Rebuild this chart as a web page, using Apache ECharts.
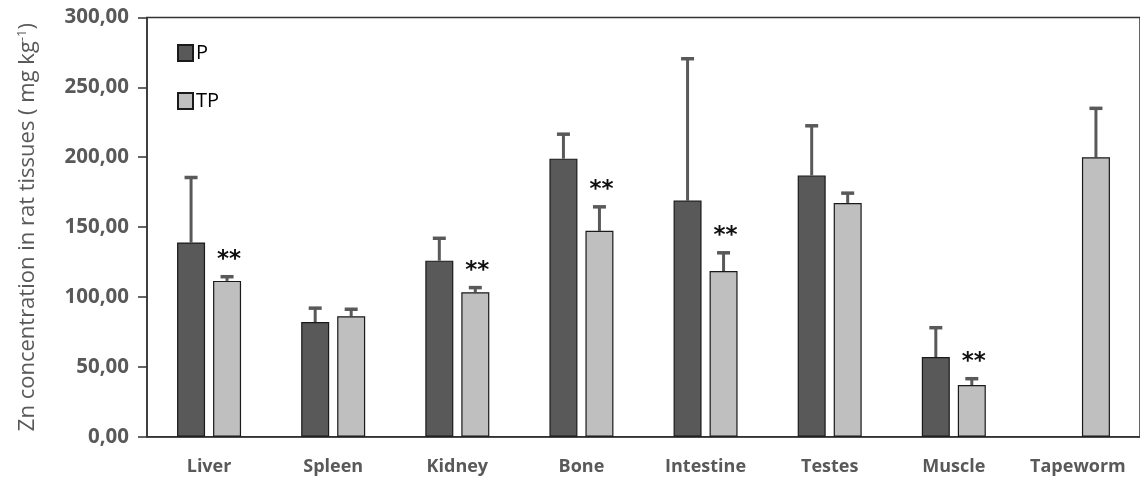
<!DOCTYPE html>
<html>
<head>
<meta charset="utf-8">
<script src="https://cdn.jsdelivr.net/npm/echarts@6/dist/echarts.min.js"></script>
<style>html,body{margin:0;padding:0;background:#fff}#c{width:1140px;height:482px}</style>
</head>
<body>
<div id="c"></div>
<script>
var categories = ['Liver', 'Spleen', 'Kidney', 'Bone', 'Intestine', 'Testes', 'Muscle', 'Tapeworm'];
var pValues  = [139, 82, 126, 199, 169, 187, 57, null];
var pErrors  = [46.5, 10, 16, 17.5, 101.5, 35.5, 21, null];
var tpValues = [111.5, 86.2, 103.4, 147.3, 118.6, 167.3, 37, 200];
var tpErrors = [3, 5, 3.3, 17.2, 13, 7, 4.5, 35];
var significance = ['**', '', '**', '**', '**', '', '**', ''];
var yTicks = [0, 50, 100, 150, 200, 250, 300];

var BAR_W = 28, GAP = 8;
var OFF = (BAR_W + GAP) / 2;
var FONT = '"Open Sans"';

function errSeries(values, errors, side, color, withSig) {
  var data = values.map(function (v, i) { return [i, v, errors[i], withSig ? significance[i] : '']; });
  return {
    type: 'custom',
    z: 1,
    silent: true,
    data: data,
    renderItem: function (params, api) {
      var v = api.value(1), e = api.value(2);
      if (v == null || isNaN(v)) return null;
      var base = api.coord([api.value(0), v]);
      var top = api.coord([api.value(0), v + e]);
      var x = base[0] + side * OFF;
      var children = [
        { type: 'line', shape: { x1: x, y1: base[1], x2: x, y2: top[1] }, style: { stroke: color, lineWidth: 3 } },
        { type: 'line', shape: { x1: x - 6.5, y1: top[1], x2: x + 6.5, y2: top[1] }, style: { stroke: color, lineWidth: 3.5 } }
      ];
      var s = data[params.dataIndex][3];
      if (s) {
        children.push({ type: 'text', style: { text: s, x: x + 2, y: top[1] - 17, textAlign: 'center', textVerticalAlign: 'middle', font: 'bold 23px "DejaVu Sans"', fill: '#111' } });
      }
      return { type: 'group', children: children };
    }
  };
}

var chart = echarts.init(document.getElementById('c'), null, { renderer: 'canvas' });
chart.setOption({
  animation: false,
  backgroundColor: '#fff',
  textStyle: { fontFamily: FONT },
  grid: { left: 147, right: -6, top: 17.5, bottom: 45.3, show: true, borderColor: '#333', borderWidth: 1.5, backgroundColor: 'transparent' },
  legend: {
    orient: 'vertical', left: 172, top: 38, itemWidth: 15, itemHeight: 16, itemGap: 28,
    textStyle: { fontSize: 20, color: '#000', fontFamily: FONT, padding: [0, 0, 0, -2] },
    data: [{ name: 'P', icon: 'rect' }, { name: 'TP', icon: 'rect' }]
  },
  xAxis: {
    type: 'category', data: categories,
    axisLine: { lineStyle: { color: '#333', width: 1.5 } },
    axisTick: { show: false },
    axisLabel: { interval: 0, color: '#595959', fontSize: 18, fontWeight: 'bold', margin: 21, fontFamily: FONT }
  },
  yAxis: {
    type: 'value', min: 0, max: 300, interval: 50,
    name: 'Zn concentration in rat tissues ( mg kg{sup|-1})',
    nameLocation: 'middle', nameGap: 108, nameRotate: 90,
    nameTextStyle: { color: '#595959', fontSize: 22, fontFamily: FONT, rich: { sup: { fontSize: 13, verticalAlign: 'top', color: '#595959', padding: [0, 0, 10, 0] } } },
    axisLine: { show: true, lineStyle: { color: '#333', width: 1.5 } },
    axisTick: { show: true, length: 9, lineStyle: { color: '#333', width: 1.5 } },
    splitLine: { show: false },
    axisLabel: {
      color: '#595959', fontSize: 20.5, fontWeight: 'bold', margin: 18, fontFamily: FONT,
      customValues: yTicks,
      formatter: function (v) { return v.toFixed(2).replace('.', ','); }
    }
  },
  series: [
    { name: 'P', type: 'bar', data: pValues, barWidth: BAR_W, barGap: (GAP / BAR_W * 100) + '%', z: 2,
      itemStyle: { color: '#595959', borderColor: '#1a1a1a', borderWidth: 1.2 } },
    { name: 'TP', type: 'bar', data: tpValues, barWidth: BAR_W, z: 2,
      itemStyle: { color: '#bfbfbf', borderColor: '#1a1a1a', borderWidth: 1.2 } },
    errSeries(pValues, pErrors, -1, '#595959', false),
    errSeries(tpValues, tpErrors, 1, '#595959', true)
  ]
});
</script>
</body>
</html>
